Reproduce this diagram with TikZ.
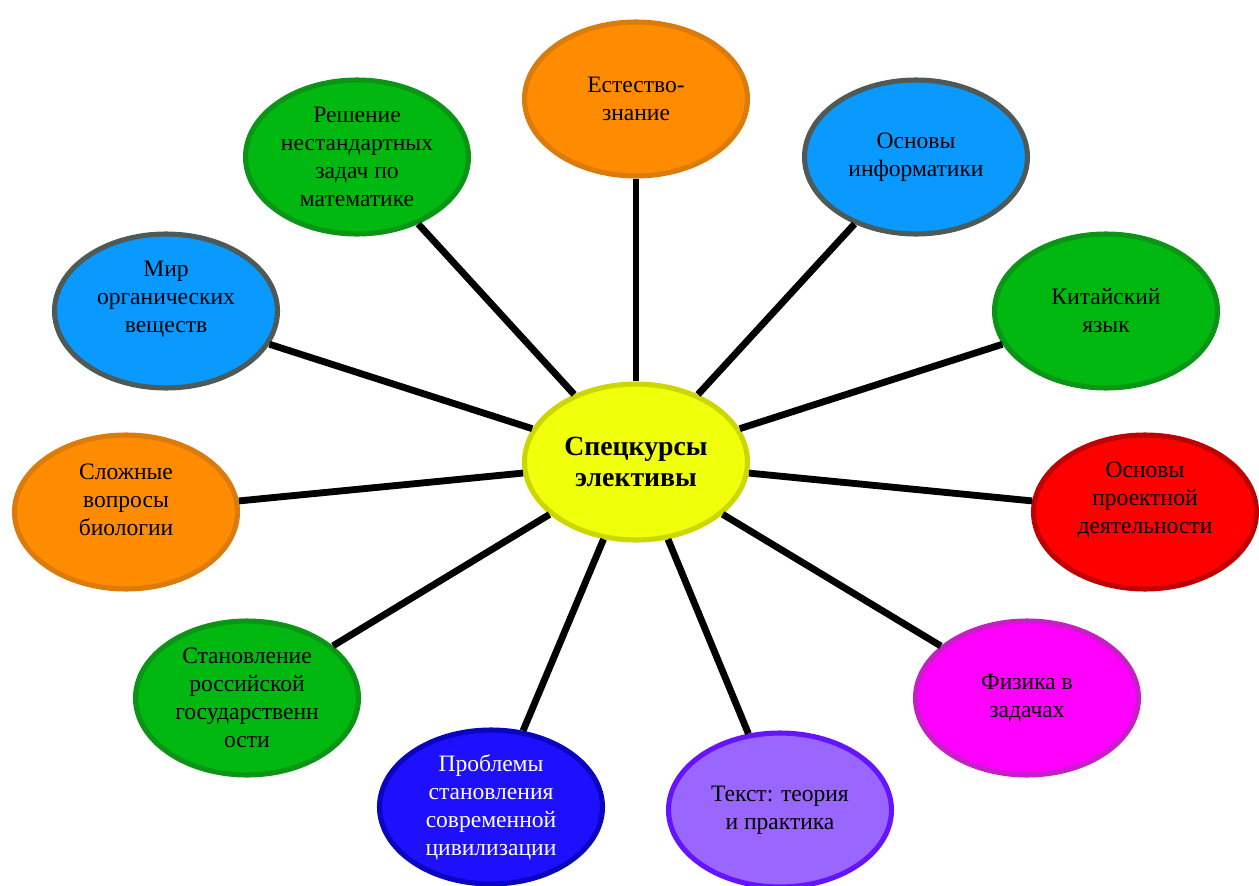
\documentclass[tikz,border=0pt]{standalone}
\usepackage{fontspec}
\setmainfont{Liberation Serif}
\usetikzlibrary{shapes.geometric}

\definecolor{orfill}{HTML}{FF8C00}
\definecolor{ordraw}{HTML}{DB7B0C}
\definecolor{skyfill}{HTML}{0A99FF}
\definecolor{skydraw}{HTML}{4E5A58}
\definecolor{grfill}{HTML}{00B80F}
\definecolor{grdraw}{HTML}{0B9415}
\definecolor{rdfill}{HTML}{FF0000}
\definecolor{rddraw}{HTML}{C00000}
\definecolor{mgfill}{HTML}{FF00FF}
\definecolor{mgdraw}{HTML}{C81EC8}
\definecolor{vifill}{HTML}{9966FF}
\definecolor{vidraw}{HTML}{6614FF}
\definecolor{bufill}{HTML}{1E0FFF}
\definecolor{budraw}{HTML}{0A05BE}
\definecolor{ylfill}{HTML}{F0FF0A}
\definecolor{yldraw}{HTML}{CCD600}

\tikzset{
  txt/.style={align=center, inner sep=0pt, font=\fontsize{13.4}{15.9}\selectfont},
  bubble/.style 2 args={ellipse, fill=#1, draw=#2, line width=2.9pt,
    minimum width=4.46cm, minimum height=3.08cm, txt},
  spoke/.style={line width=3.9pt, black},
}

\begin{document}
\begin{tikzpicture}[x=0.02cm, y=-0.02cm]

\useasboundingbox (0,0) rectangle (1259,886);

% centre
\node[bubble={ylfill}{yldraw}, minimum height=3.12cm,
      font=\bfseries\fontsize{15.8}{17.2}\selectfont] (ctr) at (636,462) {Спецкурсы\\элективы};

% electives, clockwise from the top
\node[bubble={orfill}{ordraw}] (est) at (636,99) {Естество-\\знание};
\node[bubble={skyfill}{skydraw}] (inf) at (916,157) {Основы\\информатики};
\node[bubble={grfill}{grdraw}] (kit) at (1106,311) {Китайский\\язык};
\node[bubble={rdfill}{rddraw}, label={[txt,yshift=0.24cm]center:Основы\\проектной\\деятельности}] (proj) at (1145,512) {};
\node[bubble={mgfill}{mgdraw}] (fiz) at (1027,698) {Физика в\\задачах};
\node[bubble={vifill}{vidraw}] (tekst) at (780,810) {Текст: теория\\и практика};
\node[bubble={bufill}{budraw}, text=white] (probl) at (491,807) {Проблемы\\становления\\современной\\цивилизации};
\node[bubble={grfill}{grdraw}] (stan) at (247,698) {Становление\\российской\\государственн\\ости};
\node[bubble={orfill}{ordraw}, label={[txt,yshift=0.24cm]center:Сложные\\вопросы\\биологии}] (bio) at (126,512) {};
\node[bubble={skyfill}{skydraw}, label={[txt,yshift=0.24cm]center:Мир\\органических\\веществ}] (mir) at (166,311) {};
\node[bubble={grfill}{grdraw}] (resh) at (357,157) {Решение\\нестандартных\\задач по\\математике};

\foreach \n in {est,inf,kit,proj,fiz,tekst,probl,stan,bio,mir,resh}
  \draw[spoke] (ctr) -- (\n);

\end{tikzpicture}
\end{document}
